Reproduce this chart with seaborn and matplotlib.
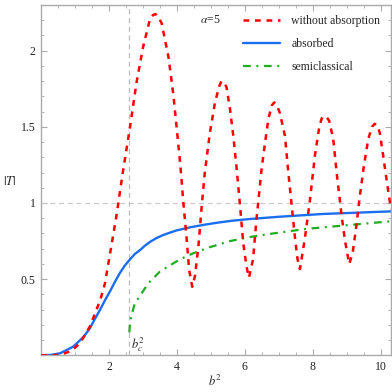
import matplotlib
matplotlib.use("Agg")
import matplotlib.pyplot as plt
from matplotlib.ticker import MultipleLocator
import seaborn as sns

# ----------------------------------------------------------------------
# Data
# ----------------------------------------------------------------------
b2_free = [0.00, 0.40, 0.66, 0.90, 1.15, 1.44, 1.74, 1.88, 2.08, 2.23, 2.40,
           2.62, 2.81, 3.01, 3.21, 3.30, 3.37, 3.45, 3.55, 3.75, 3.89, 3.99,
           4.10, 4.19, 4.28, 4.36, 4.45, 4.53, 4.63, 4.73, 4.82, 4.97, 5.12,
           5.25, 5.31, 5.39, 5.46, 5.56, 5.66, 5.76, 5.85, 5.95, 6.05, 6.12,
           6.24, 6.34, 6.40, 6.49, 6.59, 6.69, 6.79, 6.86, 6.94, 7.03, 7.18,
           7.27, 7.37, 7.47, 7.55, 7.62, 7.76, 7.91, 8.06, 8.19, 8.26, 8.32,
           8.40, 8.48, 8.60, 8.70, 8.84, 8.94, 9.07, 9.17, 9.28, 9.38, 9.50,
           9.63, 9.74, 9.82, 9.90, 9.97, 10.07, 10.21, 10.30]
T_free = [0.00, 0.00, 0.01, 0.03, 0.08, 0.19, 0.36, 0.47, 0.73, 0.93, 1.19,
          1.50, 1.79, 2.03, 2.21, 2.235, 2.24, 2.225, 2.18, 1.96, 1.72, 1.50,
          1.25, 1.00, 0.78, 0.56, 0.45, 0.52, 0.71, 0.98, 1.20, 1.46, 1.66,
          1.77, 1.80, 1.79, 1.76, 1.62, 1.44, 1.22, 1.00, 0.74, 0.58, 0.51,
          0.63, 0.89, 1.02, 1.22, 1.39, 1.55, 1.64, 1.66, 1.645, 1.59, 1.44,
          1.22, 1.00, 0.78, 0.63, 0.566, 0.76, 1.01, 1.31, 1.50, 1.555, 1.57,
          1.565, 1.54, 1.42, 1.20, 0.93, 0.76, 0.60, 0.67, 0.85, 1.04, 1.24,
          1.42, 1.50, 1.52, 1.51, 1.46, 1.31, 1.09, 0.96]

b2_abs = [0.00, 0.30, 0.56, 0.95, 1.25, 1.44, 1.59, 1.74, 1.88, 2.03, 2.17,
          2.32, 2.47, 2.62, 2.76, 2.91, 3.06, 3.21, 3.40, 3.60, 3.79, 3.99,
          4.38, 4.80, 5.17, 5.60, 6.15, 7.03, 8.30, 10.30]
T_abs = [0.000, 0.003, 0.013, 0.057, 0.12, 0.178, 0.24, 0.30, 0.36, 0.42, 0.48,
         0.54, 0.59, 0.63, 0.665, 0.69, 0.72, 0.745, 0.77, 0.79, 0.805, 0.82,
         0.84, 0.857, 0.87, 0.883, 0.895, 0.91, 0.928, 0.945]

b2_semi = [2.60, 2.62, 2.71, 2.76, 2.91, 3.06, 3.21, 3.50, 3.79, 4.09, 4.48,
           4.97, 5.56, 6.24, 6.83, 7.81, 8.30, 9.30, 10.30]
T_semi = [0.15, 0.22, 0.30, 0.34, 0.39, 0.44, 0.485, 0.55, 0.59, 0.63, 0.67,
          0.71, 0.75, 0.78, 0.80, 0.83, 0.84, 0.86, 0.88]

b2_c = 2.6
alpha_label = r"$\alpha$=5"

# ----------------------------------------------------------------------
# Style
# ----------------------------------------------------------------------
sns.set_style("ticks")
plt.rcParams["font.family"] = ["Liberation Serif", "DejaVu Serif"]
plt.rcParams["mathtext.fontset"] = "stix"

RED = "#ff0000"
BLUE = "#1a6ef0"
GREEN = "#1fae1f"
FRAME = "#aaaaaa"

fig = plt.figure(figsize=(3.92, 3.92), dpi=100)
ax = fig.add_axes([41 / 392, 36.7 / 392, 350 / 392, 350.3 / 392])

# reference lines
ax.axhline(1.0, color="#cccccc", lw=0.9, ls=(0, (4, 3)), zorder=1)
ax.axvline(b2_c, color="#bbbbbb", lw=0.9, ls=(0, (4, 3)), zorder=1)

sns.lineplot(x=b2_free, y=T_free, ax=ax, color=RED, lw=1.8,
             linestyle=(0, (2.3, 2.3)), label="without absorption", zorder=3)
sns.lineplot(x=b2_abs, y=T_abs, ax=ax, color=BLUE, lw=1.7,
             label="absorbed", zorder=2)
sns.lineplot(x=b2_semi, y=T_semi, ax=ax, color=GREEN, lw=1.6,
             linestyle=(0, (3.5, 2.5, 0.9, 2.5)), label="semiclassical", zorder=2)

ax.set_xlim(0, 10.3)
ax.set_ylim(0, 2.3)
ax.set_xticks([2, 4, 6, 8, 10])
ax.set_yticks([0.5, 1, 1.5, 2])
ax.set_yticklabels(["0.5", "1", "1.5", "2"])
ax.xaxis.set_minor_locator(MultipleLocator(0.5))
ax.yaxis.set_minor_locator(MultipleLocator(0.1))
ax.tick_params(which="both", direction="in", top=True, right=True,
               color=FRAME, labelsize=8.5, labelcolor="#222222")
ax.tick_params(which="major", length=4, width=0.8, pad=4)
ax.tick_params(which="minor", length=2, width=0.6)
for sp in ax.spines.values():
    sp.set_color(FRAME)
    sp.set_linewidth(1.0)
ax.set_xlabel("")
ax.set_ylabel("")

leg = ax.legend(loc="upper left", bbox_to_anchor=(0.577, 0.972), frameon=False,
                fontsize=8.5, handlelength=3.1, handletextpad=1.0,
                labelspacing=0.95, borderpad=0, borderaxespad=0)

ax.text(200 / 392, 1 - 20 / 392, alpha_label, transform=fig.transFigure,
        fontsize=8.5, va="center", ha="left")
fig.text(10 / 392, 1 - 181 / 392, r"$|T|$", fontsize=9, va="center", ha="center")
fig.text(215 / 392, 1 - 381 / 392, r"$b^2$", fontsize=9, va="center", ha="center")
ax.text(b2_c + 0.05, 0.07, r"$b_c^2$", fontsize=9, va="center", ha="left")

fig.savefig("out.png", dpi=100)
